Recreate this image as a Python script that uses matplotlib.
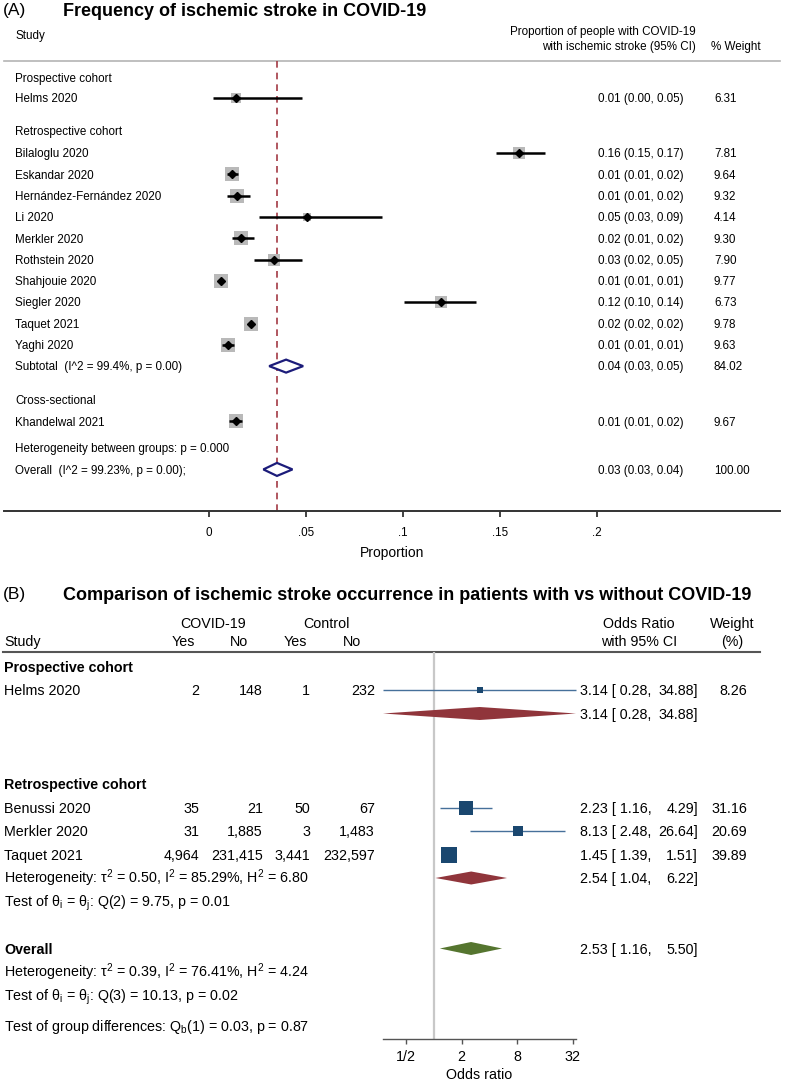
import numpy as np
import matplotlib
matplotlib.use('Agg')
import matplotlib.pyplot as plt
from matplotlib.patches import Polygon
from matplotlib.ticker import NullLocator

plt.rcParams['font.family'] = ['Liberation Sans', 'DejaVu Sans']
plt.rcParams['mathtext.fontset'] = 'custom'
plt.rcParams['mathtext.rm'] = 'Liberation Sans'
plt.rcParams['mathtext.it'] = 'Liberation Sans:italic'
plt.rcParams['mathtext.bf'] = 'Liberation Sans:bold'

# ---------------- panel A data (proportions) ----------------
a_studies = ["Helms 2020",
             "Bilaloglu 2020", "Eskandar 2020", "Hernández-Fernández 2020", "Li 2020",
             "Merkler 2020", "Rothstein 2020", "Shahjouie 2020", "Siegler 2020",
             "Taquet 2021", "Yaghi 2020",
             "Khandelwal 2021"]
a_est = [0.014, 0.160, 0.012, 0.0144, 0.0505, 0.0165, 0.0335, 0.006, 0.1196, 0.0217, 0.0098, 0.0139]
a_lo = [0.002, 0.148, 0.009, 0.009, 0.026, 0.012, 0.023, 0.005, 0.1005, 0.020, 0.0067, 0.0103]
a_hi = [0.048, 0.173, 0.015, 0.021, 0.089, 0.023, 0.048, 0.007, 0.1376, 0.023, 0.0129, 0.017]
a_weight = [6.31, 7.81, 9.64, 9.32, 4.14, 9.30, 7.90, 9.77, 6.73, 9.78, 9.63, 9.67]
a_ci_text = ["0.01 (0.00, 0.05)",
             "0.16 (0.15, 0.17)", "0.01 (0.01, 0.02)", "0.01 (0.01, 0.02)", "0.05 (0.03, 0.09)",
             "0.02 (0.01, 0.02)", "0.03 (0.02, 0.05)", "0.01 (0.01, 0.01)", "0.12 (0.10, 0.14)",
             "0.02 (0.02, 0.02)", "0.01 (0.01, 0.01)",
             "0.01 (0.01, 0.02)"]
a_groups = ["Prospective cohort", "Retrospective cohort", "Cross-sectional"]
a_pool_names = ["Subtotal  (I^2 = 99.4%, p = 0.00)", "Overall  (I^2 = 99.23%, p = 0.00);"]
a_pool_est = [0.0397, 0.035]
a_pool_lo = [0.031, 0.028]
a_pool_hi = [0.0485, 0.043]
a_pool_text = ["0.04 (0.03, 0.05)", "0.03 (0.03, 0.04)"]
a_pool_weight = ["84.02", "100.00"]
a_ref = 0.035
a_ticks = [0, 0.05, 0.1, 0.15, 0.2]
a_ticklabels = ["0", ".05", ".1", ".15", ".2"]

# ---------------- panel B data (odds ratios) ----------------
b_studies = ["Helms 2020", "Benussi 2020", "Merkler 2020", "Taquet 2021"]
b_cov_yes = [2, 35, 31, 4964]
b_cov_no = [148, 21, 1885, 231415]
b_ctl_yes = [1, 50, 3, 3441]
b_ctl_no = [232, 67, 1483, 232597]
b_or = [3.14, 2.23, 8.13, 1.45]
b_lo = [0.28, 1.16, 2.48, 1.39]
b_hi = [34.88, 4.29, 26.64, 1.51]
b_weight = [8.26, 31.16, 20.69, 39.89]
b_sub_or = [3.14, 2.54]
b_sub_lo = [0.28, 1.04]
b_sub_hi = [34.88, 6.22]
b_all_or, b_all_lo, b_all_hi = 2.53, 1.16, 5.50
b_ticks = [0.5, 2, 8, 32]
b_ticklabels = ["1/2", "2", "8", "32"]

W, H = 785, 1082
fig = plt.figure(figsize=(W / 100, H / 100), dpi=100)
bg = fig.add_axes([0, 0, 1, 1])
bg.set_xlim(0, W)
bg.set_ylim(H, 0)
bg.axis('off')


def pax(x0, y0, x1, y1):
    ax = fig.add_axes([x0 / W, 1 - y1 / H, (x1 - x0) / W, (y1 - y0) / H])
    ax.patch.set_visible(False)
    return ax


def txt(x, y, s, size, **kw):
    # y is the middle of the capitals, in pixels
    bg.text(x, y + 0.36 * size * 100 / 72, s, fontsize=size, va='baseline', **kw)


def diamond(ax, lo, mid, hi, y, half, **kw):
    ax.add_patch(Polygon([(lo, y), (mid, y - half), (hi, y), (mid, y + half)], closed=True, **kw))


# =============== PANEL A ===============
fsA = 8.4
txt(3, 9, "(A)", 12.5)
txt(63, 9, "Frequency of ischemic stroke in COVID-19", 13, fontweight='bold')
txt(15, 35, "Study", fsA)
txt(696, 30.5, "Proportion of people with COVID-19", fsA, ha='right')
txt(696, 45.5, "with ischemic stroke (95% CI)", fsA, ha='right')
txt(711, 45.5, "% Weight", fsA)
bg.plot([4, 780], [61, 61], color='#b4b4b4', lw=1.2)

rowA = lambda u: 77.5 + 21.3 * u
a_units = [0.95] + [3.55 + i for i in range(10)] + [16.15]
a_group_units = [0, 2.5, 15.15]
a_pool_units = [13.55, 18.4]
a_het_unit = 17.4

axA = pax(4, 61, 780, 511)
axA.set_xlim(-0.1057, 0.2943)
axA.set_ylim(511, 61)
for s in ['top', 'left', 'right']:
    axA.spines[s].set_visible(False)
axA.spines['bottom'].set_color('#333333')
axA.spines['bottom'].set_linewidth(1.4)
axA.set_yticks([])
axA.set_xticks(a_ticks)
axA.set_xticklabels(a_ticklabels)
axA.tick_params(axis='x', length=4.5, width=1.3, color='#333333', labelsize=fsA, pad=7)
axA.set_xlabel("Proportion", fontsize=10, labelpad=5)
axA.axvline(a_ref, color='#a33a44', lw=1.2, ls=(0, (4, 3)), zorder=1)

for g, u in zip(a_groups, a_group_units):
    txt(15, rowA(u), g, fsA)
for i, name in enumerate(a_studies):
    y = rowA(a_units[i])
    txt(15, y, name, fsA)
    txt(598, y, a_ci_text[i], fsA)
    txt(714, y, "%.2f" % a_weight[i], fsA)
    side = 4.3 * np.sqrt(a_weight[i]) * 0.72
    axA.scatter([a_est[i]], [y], marker='s', s=side ** 2, color='#b9b9b9', lw=0, zorder=2)
    axA.hlines(y, a_lo[i], a_hi[i], color='black', lw=1.8, zorder=3)
    axA.plot([a_est[i]], [y], marker='D', ms=4.5, color='black', zorder=4)
for j, name in enumerate(a_pool_names):
    y = rowA(a_pool_units[j])
    txt(15, y, name, fsA)
    txt(598, y, a_pool_text[j], fsA)
    txt(714, y, a_pool_weight[j], fsA)
    diamond(axA, a_pool_lo[j], a_pool_est[j], a_pool_hi[j], y, 6.5,
            facecolor='white', edgecolor='#1c1c7a', lw=1.6, zorder=3)
txt(15, rowA(a_het_unit), "Heterogeneity between groups: p = 0.000", fsA)

# =============== PANEL B ===============
fsB = 10.3
txt(3, 593, "(B)", 12.5)
txt(63, 593, "Comparison of ischemic stroke occurrence in patients with vs without COVID-19", 13,
    fontweight='bold')
txt(213, 622.5, "COVID-19", fsB, ha='center')
txt(326, 622.5, "Control", fsB, ha='center')
txt(4, 640.5, "Study", fsB)
for xc, lab in zip([183, 239, 295, 352], ["Yes", "No", "Yes", "No"]):
    txt(xc, 640.5, lab, fsB, ha='center')
txt(639, 622.5, "Odds Ratio", fsB, ha='center')
txt(639, 640.5, "with 95% CI", fsB, ha='center')
txt(732, 622.5, "Weight", fsB, ha='center')
txt(732, 640.5, "(%)", fsB, ha='center')
bg.plot([3, 760], [652, 652], color='#555555', lw=1.5)

rowB = lambda u: 666.5 + 23.5 * u

axB = pax(383, 652, 576, 1039)
axB.set_xscale('log', base=2)
axB.set_xlim(0.28, 34.88)
axB.set_ylim(1039, 652)
for s in ['top', 'left', 'right']:
    axB.spines[s].set_visible(False)
axB.spines['bottom'].set_color('#555555')
axB.spines['bottom'].set_linewidth(1.0)
axB.set_yticks([])
axB.set_xticks(b_ticks)
axB.set_xticklabels(b_ticklabels)
axB.xaxis.set_minor_locator(NullLocator())
axB.tick_params(axis='x', length=3.6, width=1.0, color='#555555', labelsize=fsB, pad=4)
axB.set_xlabel("Odds ratio", fontsize=fsB, labelpad=3)
axB.axvline(1, color='#c8c8c8', lw=1.6, zorder=0)

b_groups = ["Prospective cohort", "Retrospective cohort"]
b_group_units = [0, 5]
b_study_units = [1, 6, 7, 8]
b_sub_units = [2, 9]

for g, u in zip(b_groups, b_group_units):
    txt(4, rowB(u), g, fsB, fontweight='bold')

for i, name in enumerate(b_studies):
    y = rowB(b_study_units[i])
    txt(4, y, name, fsB)
    for xr, val in zip([199, 263, 310, 375], [b_cov_yes[i], b_cov_no[i], b_ctl_yes[i], b_ctl_no[i]]):
        txt(xr, y, f"{val:,}", fsB, ha='right')
    txt(580, y, f"{b_or[i]:.2f} [ {b_lo[i]:.2f},", fsB)
    txt(698, y, f"{b_hi[i]:.2f}]", fsB, ha='right')
    txt(747, y, f"{b_weight[i]:.2f}", fsB, ha='right')
    axB.hlines(y, b_lo[i], b_hi[i], color='#46709a', lw=1.0, zorder=2, clip_on=False)
    side = 2.38 * np.sqrt(b_weight[i]) * 0.72
    axB.scatter([b_or[i]], [y], marker='s', s=side ** 2, color='#1a476f', lw=0, zorder=3)

for j in range(2):
    y = rowB(b_sub_units[j])
    diamond(axB, b_sub_lo[j], b_sub_or[j], b_sub_hi[j], y, 6.5,
            facecolor='#90353b', edgecolor='none', zorder=3, clip_on=False)
    txt(580, y, f"{b_sub_or[j]:.2f} [ {b_sub_lo[j]:.2f},", fsB)
    txt(698, y, f"{b_sub_hi[j]:.2f}]", fsB, ha='right')

txt(4, rowB(9), r"Heterogeneity: τ$^{\mathrm{2}}$ = 0.50, I$^{\mathrm{2}}$ = 85.29%, H$^{\mathrm{2}}$ = 6.80", fsB)
txt(4, rowB(10), r"Test of θ$_{\mathrm{i}}$ = θ$_{\mathrm{j}}$: Q(2) = 9.75, p = 0.01", fsB)

y = rowB(12)
txt(4, y, "Overall", fsB, fontweight='bold')
diamond(axB, b_all_lo, b_all_or, b_all_hi, y, 6.5, facecolor='#55752f', edgecolor='none', zorder=3)
txt(580, y, f"{b_all_or:.2f} [ {b_all_lo:.2f},", fsB)
txt(698, y, f"{b_all_hi:.2f}]", fsB, ha='right')
txt(4, rowB(13), r"Heterogeneity: τ$^{\mathrm{2}}$ = 0.39, I$^{\mathrm{2}}$ = 76.41%, H$^{\mathrm{2}}$ = 4.24", fsB)
txt(4, rowB(14), r"Test of θ$_{\mathrm{i}}$ = θ$_{\mathrm{j}}$: Q(3) = 10.13, p = 0.02", fsB)
txt(4, rowB(15.3), r"Test of group differences: Q$_{\mathrm{b}}$(1) = 0.03, p = 0.87", fsB)

fig.savefig('out.png', dpi=100)
